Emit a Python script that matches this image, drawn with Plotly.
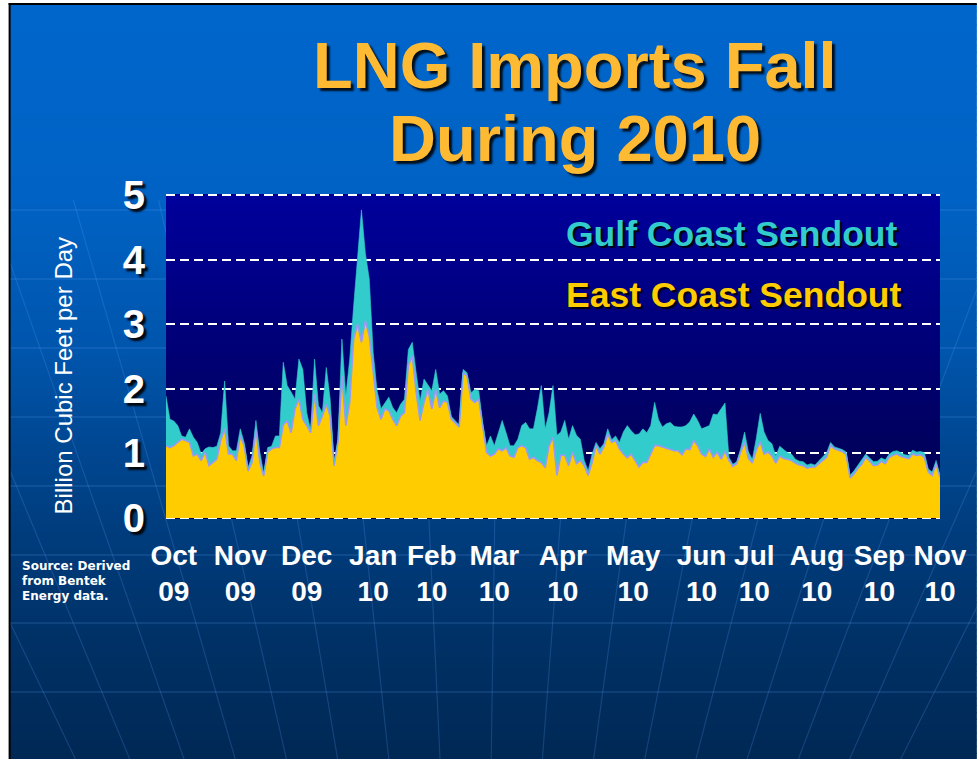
import plotly.graph_objects as go
import pandas as pd

# ---------------- data (every 2 days) ----------------
START_DATE = "2009-10-01"
END_DATE = "2010-11-01"
dates = pd.date_range(START_DATE, END_DATE, freq="2D")

east_coast = [
    1.12, 1.09, 1.12, 1.17, 1.22, 1.20, 1.17, 0.96, 0.99, 0.89,
    1.02, 0.81, 0.86, 0.91, 1.20, 1.38, 0.99, 0.99, 0.89, 1.27,
    1.12, 0.73, 0.86, 1.38, 0.86, 0.65, 1.02, 1.07, 1.09, 1.09,
    1.44, 1.51, 1.32, 1.69, 1.84, 1.53, 1.43, 1.32, 1.92, 1.43,
    1.58, 1.76, 1.58, 0.81, 1.18, 2.20, 1.43, 1.79, 2.77, 3.00,
    2.72, 3.05, 2.82, 2.25, 1.71, 1.53, 1.69, 1.66, 1.53, 1.43,
    1.58, 1.63, 2.36, 2.51, 1.94, 1.51, 1.79, 1.99, 1.69, 1.99,
    1.71, 1.81, 1.79, 1.53, 1.47, 1.41, 2.25, 2.20, 1.84, 1.79,
    1.84, 1.43, 1.02, 0.96, 0.99, 1.07, 1.04, 1.09, 0.96, 0.94,
    1.09, 1.12, 1.09, 0.91, 0.94, 0.89, 0.86, 0.78, 1.12, 1.25,
    0.66, 0.97, 0.97, 0.81, 1.02, 0.84, 0.89, 0.81, 0.66, 0.86,
    1.12, 0.99, 1.10, 1.30, 1.17, 1.20, 1.07, 0.99, 0.93, 0.99,
    0.89, 0.79, 0.86, 0.86, 0.99, 1.12, 1.12, 1.10, 1.07, 1.06,
    1.04, 1.04, 0.98, 1.07, 1.06, 1.20, 1.12, 0.99, 0.95, 1.07,
    0.94, 1.02, 0.91, 1.03, 0.89, 0.80, 0.84, 1.02, 1.17, 0.92,
    0.85, 1.05, 1.18, 0.99, 1.02, 0.96, 0.85, 0.96, 0.92, 0.91,
    0.89, 0.85, 0.82, 0.81, 0.77, 0.79, 0.79, 0.84, 0.89, 0.94,
    1.12, 1.07, 1.05, 1.03, 0.98, 0.62, 0.68, 0.77, 0.83, 0.94,
    0.88, 0.81, 0.82, 0.88, 0.84, 0.94, 0.97, 0.99, 0.95, 0.93,
    0.92, 0.99, 0.97, 0.98, 0.94, 0.71, 0.66, 0.84, 0.63,
]

gulf_coast = [
    0.77, 0.44, 0.38, 0.26, 0.05, 0.05, 0.21, 0.29, 0.18, 0.10,
    0.05, 0.29, 0.23, 0.20, 0.12, 0.74, 0.13, 0.05, 0.15, 0.11,
    0.05, 0.05, 0.10, 0.13, 0.16, 0.04, 0.07, 0.04, 0.18, 0.18,
    0.97, 0.54, 0.63, 0.15, 0.62, 0.77, 0.20, 0.04, 0.54, 0.31,
    0.05, 0.57, 0.26, 0.05, 0.04, 0.57, 0.46, 0.67, 0.51, 1.06,
    2.05, 1.05, 0.88, 0.31, 0.26, 0.16, 0.10, 0.21, 0.18, 0.20,
    0.18, 0.21, 0.25, 0.21, 0.31, 0.30, 0.36, 0.06, 0.28, 0.31,
    0.21, 0.16, 0.10, 0.04, 0.03, 0.03, 0.05, 0.05, 0.10, 0.20,
    0.13, 0.05, 0.10, 0.31, 0.13, 0.25, 0.47, 0.23, 0.16, 0.18,
    0.13, 0.31, 0.39, 0.47, 0.44, 0.80, 1.19, 0.60, 0.51, 0.80,
    0.62, 0.36, 0.54, 0.41, 0.41, 0.44, 0.33, 0.08, 0.07, 0.13,
    0.05, 0.08, 0.05, 0.08, 0.04, 0.07, 0.10, 0.34, 0.50, 0.36,
    0.40, 0.51, 0.52, 0.46, 0.44, 0.67, 0.40, 0.31, 0.39, 0.42,
    0.38, 0.37, 0.43, 0.36, 0.43, 0.41, 0.39, 0.39, 0.46, 0.36,
    0.67, 0.58, 0.78, 0.75, 0.05, 0.03, 0.03, 0.05, 0.16, 0.10,
    0.06, 0.18, 0.44, 0.34, 0.18, 0.19, 0.11, 0.15, 0.14, 0.10,
    0.10, 0.06, 0.06, 0.06, 0.05, 0.05, 0.03, 0.04, 0.05, 0.07,
    0.05, 0.03, 0.03, 0.03, 0.04, 0.04, 0.05, 0.05, 0.06, 0.05,
    0.05, 0.06, 0.06, 0.05, 0.06, 0.05, 0.06, 0.05, 0.06, 0.05,
    0.05, 0.06, 0.05, 0.05, 0.07, 0.05, 0.05, 0.05, 0.03,
]

tick_dates = ["2009-10-05", "2009-11-08", "2009-12-12", "2010-01-15", "2010-02-14",
              "2010-03-18", "2010-04-22", "2010-05-28", "2010-07-02", "2010-07-29",
              "2010-08-30", "2010-10-01", "2010-11-01"]
tick_labels = ["Oct<br>09", "Nov<br>09", "Dec<br>09", "Jan<br>10", "Feb<br>10",
               "Mar<br>10", "Apr<br>10", "May<br>10", "Jun<br>10", "Jul<br>10",
               "Aug<br>10", "Sep<br>10", "Nov<br>10"]
y_ticks = [0, 1, 2, 3, 4, 5]

title_lines = ["LNG Imports Fall", "During 2010"]
series_names = ["East Coast Sendout", "Gulf Coast Sendout"]
y_title = "Billion Cubic Feet per Day"
source_lines = ["Source: Derived", "from Bentek", "Energy data."]

# ---------------- geometry / styling (page pixel coordinates) ----------------
W, H = 979, 759
L, R, T, B = 166, 943, 194, 519
FONT = "Liberation Sans, Arial, sans-serif"


def px(x):
    return (x - L) / (R - L)


def py(y):
    return (B - y) / (B - T)


def grad(stops, y):
    for (y0, c0), (y1, c1) in zip(stops, stops[1:]):
        if y0 <= y <= y1:
            t = (y - y0) / (y1 - y0)
            return "rgb(%d,%d,%d)" % tuple(round(a + (b - a) * t) for a, b in zip(c0, c1))
    c = stops[-1][1] if y > stops[-1][0] else stops[0][1]
    return "rgb(%d,%d,%d)" % c


shapes = []
# slide gradient
slide_stops = [(4, (0, 102, 204)), (200, (0, 98, 196)), (350, (0, 85, 172)),
               (500, (0, 64, 132)), (650, (0, 48, 100)), (759, (0, 40, 85))]
n = 110
h = (760 - 4) / n
for i in range(n):
    y0 = 4 + i * h
    shapes.append(dict(type="rect", xref="paper", yref="paper", layer="below",
                       x0=px(9), x1=px(980), y0=py(y0), y1=py(y0 + h + 0.8),
                       fillcolor=grad(slide_stops, y0 + h / 2), line=dict(width=0)))
# faint decorative globe lines
deco = "rgba(90,160,245,0.22)"
for yy in [210, 279, 348, 417, 486, 555, 623, 692]:
    shapes.append(dict(type="line", xref="paper", yref="paper", layer="below",
                       x0=px(9), x1=px(980), y0=py(yy), y1=py(yy),
                       line=dict(color=deco, width=1.5)))
vx, vy = 480, 1600
for xt in [-40, 30, 100, 166, 232, 298, 364, 430, 496, 562, 628, 694, 760, 826, 892, 958, 1024]:
    y_a, y_b = 200, 760
    xa = xt + (vx - xt) * (y_a - 520) / (vy - 520)
    xb = xt + (vx - xt) * (y_b - 520) / (vy - 520)
    if xa < 9:
        y_a = y_a + (9 - xa) / (xb - xa) * (y_b - y_a)
        xa = 9
    if xa > 980:
        y_a = y_a + (xa - 980) / (xa - xb) * (y_b - y_a)
        xa = 980
    shapes.append(dict(type="line", xref="paper", yref="paper", layer="below",
                       x0=px(xa), y0=py(y_a), x1=px(min(980, max(9, xb))), y1=py(y_b),
                       line=dict(color=deco, width=1.2)))
# plot area gradient
plot_stops = [(T, (0, 0, 156)), (B, (0, 0, 76))]
m = 60
hh = (B - T) / m
for i in range(m):
    y0 = T + i * hh
    shapes.append(dict(type="rect", xref="paper", yref="paper", layer="below",
                       x0=0, x1=1, y0=py(y0), y1=py(min(B, y0 + hh + 0.8)),
                       fillcolor=grad(plot_stops, y0 + hh / 2), line=dict(width=0)))
# slide border
shapes.append(dict(type="line", xref="paper", yref="paper", layer="above",
                   x0=px(9), x1=px(9), y0=py(3), y1=py(760), line=dict(color="black", width=2)))
shapes.append(dict(type="line", xref="paper", yref="paper", layer="above",
                   x0=px(8), x1=px(980), y0=py(4), y1=py(4), line=dict(color="black", width=2)))

shadow = "3px 3px 2px rgba(0,0,0,0.85)"
annotations = [
    dict(text="<b>%s</b>" % title_lines[0], x=px(577), y=py(65), xref="paper", yref="paper",
         showarrow=False, xanchor="center", yanchor="middle",
         font=dict(family=FONT, size=65, color="#FFBA33", shadow=shadow)),
    dict(text="<b>%s</b>" % title_lines[1], x=px(577), y=py(138), xref="paper", yref="paper",
         showarrow=False, xanchor="center", yanchor="middle",
         font=dict(family=FONT, size=65, color="#FFBA33", shadow=shadow)),
    dict(text="<b>%s</b>" % series_names[1], x=px(566), y=py(234), xref="paper", yref="paper",
         showarrow=False, xanchor="left", yanchor="middle",
         font=dict(family=FONT, size=35.5, color="#33CCCC", shadow="2px 2px 1px rgba(0,0,0,0.9)")),
    dict(text="<b>%s</b>" % series_names[0], x=px(566), y=py(295), xref="paper", yref="paper",
         showarrow=False, xanchor="left", yanchor="middle",
         font=dict(family=FONT, size=35.5, color="#FFCC00", shadow="2px 2px 1px rgba(0,0,0,0.9)")),
    dict(text=y_title, x=px(63), y=py(376), xref="paper", yref="paper", textangle=-90,
         showarrow=False, xanchor="center", yanchor="middle",
         font=dict(family=FONT, size=24, color="white")),
]
for i, line in enumerate(source_lines):
    annotations.append(dict(text="<b>%s</b>" % line, x=px(19), y=py(566 + 15 * i),
                            xref="paper", yref="paper", showarrow=False,
                            xanchor="left", yanchor="middle",
                            font=dict(family="DejaVu Sans, Verdana, sans-serif", size=12, color="white")))

fig = go.Figure()
fig.add_trace(go.Scatter(x=dates, y=east_coast, name=series_names[0], mode="lines",
                         stackgroup="lng", fillcolor="#FFCC00",
                         line=dict(color="#9A9AF2", width=1.6)))
fig.add_trace(go.Scatter(x=dates, y=gulf_coast, name=series_names[1], mode="lines",
                         stackgroup="lng", fillcolor="#33CCCC",
                         line=dict(color="#33CCCC", width=0.6)))

fig.update_layout(
    width=W, height=H,
    margin=dict(l=L, r=W - R, t=T, b=H - B, pad=0),
    paper_bgcolor="white", plot_bgcolor="rgba(0,0,0,0)",
    showlegend=False,
    shapes=shapes, annotations=annotations,
    xaxis=dict(type="date", range=[START_DATE, END_DATE], tickvals=tick_dates, ticktext=tick_labels,
               showgrid=False, zeroline=False, showline=False, ticks="",
               tickfont=dict(family=FONT, size=28, color="white", weight="bold"),
               ticklabelstandoff=17, fixedrange=True),
    yaxis=dict(range=[-0.016, 5.016], tickvals=y_ticks, showgrid=True, gridcolor="white",
               gridwidth=2, griddash="9px,5px", zeroline=False, showline=False, ticks="",
               tickfont=dict(family=FONT, size=40, color="white", weight="bold",
                             shadow="3px 3px 2px rgba(0,0,0,0.9)"),
               ticklabelstandoff=20, fixedrange=True),
)

fig.write_html("out.html", config={"displayModeBar": False},
               post_script="document.body.style.margin='0';document.body.style.overflow='hidden';")
